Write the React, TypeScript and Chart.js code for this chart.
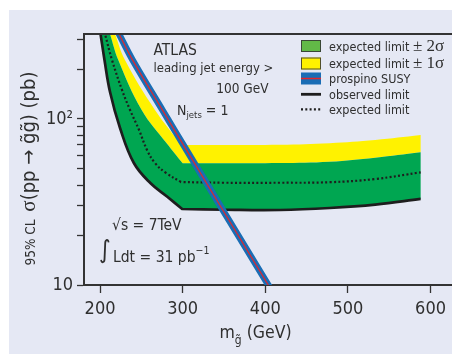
import React, { useEffect, useRef } from "react";
import { Chart, registerables } from "chart.js";

Chart.register(...registerables);

// ---- data ----
const xTicks = [200, 300, 400, 500, 600];
const yTicks = [10, 20, 30, 40, 50, 60, 70, 80, 90, 100, 200, 300];
const yTickLabels: Record<number, string> = { 10: "10", 100: "10²" };

const massObserved = [197.8, 200.6, 205.4, 212.1, 224.2, 241.1, 261.2, 281.4, 299.4, 350, 418, 478, 533, 588];
const limitObserved = [400, 325, 226.7, 145.4, 88.3, 54.1, 41, 34, 28.7, 28.4, 28.3, 29.1, 30.5, 33];

const massExpected = [201, 206, 214.5, 226.6, 236.3, 247.2, 256.9, 266.5, 279.8, 298, 350, 418, 478, 533, 588];
const limitExpected = [400, 325, 226.7, 149.5, 113.3, 85.9, 65, 54.3, 47.3, 41.7, 41.3, 41.3, 41.6, 43.5, 47.7];

const massPlus2 = [206.2, 212.1, 222.1, 250.4, 280.6, 300, 350, 418, 478, 533, 588];
const limitPlus2 = [400, 325, 226.7, 113.3, 71.4, 54.1, 54.1, 54.3, 55.3, 58.5, 63];

const massPlus1 = [211, 218.1, 230.2, 266.5, 296.8, 300, 350, 418, 478, 533, 588];
const limitPlus1 = [400, 325, 226.7, 113.3, 71.4, 69.7, 69.7, 70, 71.5, 74.7, 80];

const massProspino = [214, 223, 239.3, 275.6, 289.9, 403.6, 420];
const sigmaProspino = [397, 325, 227, 113, 86, 10, 7.4];

// indices of the kinks (where the limit curves turn flat)
const kinkObserved = [8];
const kinkExpected = [9];
const kinkPlus2 = [5];
const kinkPlus1 = [4, 5];

// ---- styles ----
const FONT = '"DejaVu Sans Condensed", "DejaVu Sans", sans-serif';
const SERIF = '"Liberation Serif", "DejaVu Serif", serif';
const TEXT = "#2f2f2f";
const AXIS = "#333333";
const GREEN = "#00a651";
const GREEN_LEG = "#62b947";
const YELLOW = "#fff200";
const BLUE = "#1a6db5";
const RED = "#e2262b";
const PANEL = "#e5e8f4";
const TENSION = 0.4;

type P = { x: number; y: number };
// points; a repeated point gives a sharp corner in the spline
const pts = (xs: number[], ys: number[], kinks: number[] = []): P[] => {
  const out: P[] = [];
  xs.forEach((x, i) => {
    out.push({ x, y: ys[i] });
    if (kinks.includes(i)) out.push({ x, y: ys[i] });
  });
  return out;
};
const rev = (p: P[]) => [...p].reverse();
const endDup = (p: P[]) => [...p, p[p.length - 1]];
const startDup = (p: P[]) => [p[0], ...p];

function txt(ctx: CanvasRenderingContext2D, s: string, x: number, y: number, size: number, family = FONT, align: CanvasTextAlign = "left") {
  ctx.font = `${size}px ${family}`;
  ctx.textAlign = align;
  ctx.textBaseline = "alphabetic";
  ctx.fillText(s, x, y);
  return ctx.measureText(s).width;
}

const decor = {
  id: "decor",
  afterDatasetsDraw(chart: any) {
    const { ctx, chartArea: a } = chart;
    ctx.save();
    // top frame
    ctx.strokeStyle = AXIS;
    ctx.lineWidth = 2;
    ctx.beginPath();
    ctx.moveTo(a.left - 1, a.top);
    ctx.lineTo(a.right + 2, a.top);
    ctx.stroke();

    ctx.fillStyle = TEXT;
    // annotations
    txt(ctx, "ATLAS", 153.5, 55, 15.5);
    txt(ctx, "leading jet energy >", 153.5, 72, 13);
    txt(ctx, "100 GeV", 268.5, 93, 13.5, FONT, "right");
    let w = txt(ctx, "N", 177, 115, 14);
    w += txt(ctx, "jets", 177 + w, 118, 9.5);
    txt(ctx, " = 1", 177 + w, 115, 14);

    txt(ctx, "√s = 7TeV", 112, 229.5, 15.5);
    txt(ctx, "∫", 99, 258, 25);
    const w2 = txt(ctx, "Ldt = 31 pb", 113, 261.5, 15.5);
    txt(ctx, "−1", 113 + w2, 253.5, 10.5);

    // legend
    const lx = 301, lw = 20;
    ctx.lineWidth = 1;
    ctx.strokeStyle = "rgba(50,50,50,0.85)";
    ctx.fillStyle = GREEN_LEG;
    ctx.fillRect(lx, 40, lw, 12);
    ctx.strokeRect(lx + 0.5, 40.5, lw - 1, 11);
    ctx.fillStyle = YELLOW;
    ctx.fillRect(lx, 57.5, lw, 12);
    ctx.strokeRect(lx + 0.5, 58, lw - 1, 11);
    ctx.fillStyle = BLUE;
    ctx.fillRect(lx, 72.5, lw, 12);
    ctx.strokeStyle = RED;
    ctx.lineWidth = 1.5;
    ctx.beginPath();
    ctx.moveTo(lx, 78.5);
    ctx.lineTo(lx + lw, 78.5);
    ctx.stroke();
    ctx.strokeStyle = "#1e1e1e";
    ctx.lineWidth = 2.8;
    ctx.beginPath();
    ctx.moveTo(lx, 94.3);
    ctx.lineTo(lx + lw, 94.3);
    ctx.stroke();
    ctx.lineWidth = 2.2;
    ctx.setLineDash([2, 2.3]);
    ctx.beginPath();
    ctx.moveTo(lx, 109.3);
    ctx.lineTo(lx + lw, 109.3);
    ctx.stroke();
    ctx.setLineDash([]);

    ctx.fillStyle = TEXT;
    const tx = 329;
    let a1 = txt(ctx, "expected limit ", tx, 50.5, 12.5);
    txt(ctx, "± 2σ", tx + a1, 51, 17, SERIF);
    a1 = txt(ctx, "expected limit ", tx, 67.5, 12.5);
    txt(ctx, "± 1σ", tx + a1, 68, 17, SERIF);
    txt(ctx, "prospino SUSY", tx, 82.5, 12.5);
    txt(ctx, "observed limit", tx, 98.8, 12.5);
    txt(ctx, "expected limit", tx, 113.8, 12.5);

    // x title
    let xw = txt(ctx, "m", 219.5, 338, 17.5);
    xw += txt(ctx, "g\u0303", 219.5 + xw, 344, 12);
    txt(ctx, " (GeV)", 219.5 + xw, 338, 17.5);

    // y title
    ctx.translate(35, 265.5);
    ctx.rotate(-Math.PI / 2);
    let yw = txt(ctx, "95% CL  ", 0, 0, 13.5);
    yw += txt(ctx, "σ", yw, 0, 21, SERIF);
    yw += txt(ctx, "(pp → g\u0303g\u0303) (pb)", yw, 0, 20);
    ctx.restore();
  },
};

export default function App() {
  const ref = useRef<HTMLCanvasElement | null>(null);

  useEffect(() => {
    if (!ref.current) return;
    const base = { pointRadius: 0, tension: TENSION, clip: 0 } as any;
    const obs = pts(massObserved, limitObserved, kinkObserved);
    const p2 = pts(massPlus2, limitPlus2, kinkPlus2);
    const p1 = pts(massPlus1, limitPlus1, kinkPlus1);
    const yellowShape = [...endDup(p1), ...startDup(rev(p2))];
    const greenShape = [...endDup(p2), ...startDup(rev(obs))];

    const chart = new Chart(ref.current, {
      type: "line",
      data: {
        datasets: [
          { ...base, label: "prospino red", data: pts(massProspino, sigmaProspino), borderColor: RED, borderWidth: 1.2, fill: false, order: 0 },
          { ...base, label: "prospino SUSY", data: pts(massProspino, sigmaProspino), borderColor: BLUE, borderWidth: 6.5, fill: false, order: 1 },
          { ...base, label: "expected limit", data: pts(massExpected, limitExpected, kinkExpected), borderColor: "#1e1e1e", borderWidth: 2.2, borderDash: [2, 2.3], fill: false, order: 2 },
          { ...base, label: "observed limit", data: obs, borderColor: "#1e1e1e", borderWidth: 2.7, borderJoinStyle: "round", fill: false, order: 3 },
          { ...base, label: "±2σ", data: greenShape, borderColor: "rgba(0,0,0,0)", borderWidth: 0, backgroundColor: GREEN, fill: "shape", order: 4 },
          { ...base, label: "±1σ", data: yellowShape, borderColor: "rgba(0,0,0,0)", borderWidth: 0, backgroundColor: YELLOW, fill: "shape", order: 5 },
        ],
      },
      options: {
        animation: false,
        responsive: false,
        events: [],
        layout: { padding: { top: 34, left: 0, right: 0, bottom: 0 } },
        plugins: { legend: { display: false }, tooltip: { enabled: false }, title: { display: false } },
        scales: {
          x: {
            type: "linear",
            min: 180.6,
            max: 625.8,
            afterBuildTicks: (s: any) => {
              s.ticks = xTicks.map((v) => ({ value: v }));
            },
            afterFit: (s: any) => {
              s.height = 69;
            },
            grid: { display: true, drawOnChartArea: false, drawTicks: true, tickLength: 8, tickColor: AXIS, tickWidth: 1.3 },
            border: { display: true, color: AXIS, width: 2 },
            ticks: { font: { family: FONT, size: 18 }, color: TEXT, padding: 6, maxRotation: 0, autoSkip: false, callback: (v: any) => String(v) },
          },
          y: {
            type: "logarithmic",
            min: 10,
            max: 325,
            afterBuildTicks: (s: any) => {
              s.ticks = yTicks.map((v) => ({ value: v }));
            },
            afterFit: (s: any) => {
              s.width = 84;
            },
            grid: { display: true, drawOnChartArea: false, drawTicks: true, tickLength: 7, tickColor: AXIS, tickWidth: 1.3 },
            border: { display: true, color: AXIS, width: 2 },
            ticks: { font: { family: FONT, size: 18 }, color: TEXT, padding: 4, autoSkip: false, callback: (v: any) => yTickLabels[v as number] ?? "" },
          },
        },
      },
      plugins: [decor],
    } as any);
    return () => chart.destroy();
  }, []);

  return (
    <div style={{ position: "absolute", left: 0, top: 0, width: 452, height: 354, background: "#ffffff", overflow: "hidden" }}>
      <div style={{ position: "absolute", left: 9, top: 10, width: 443, height: 344, background: PANEL }} />
      <canvas ref={ref} width={452} height={354} style={{ position: "absolute", left: 0, top: 0, width: 452, height: 354 }} />
    </div>
  );
}
